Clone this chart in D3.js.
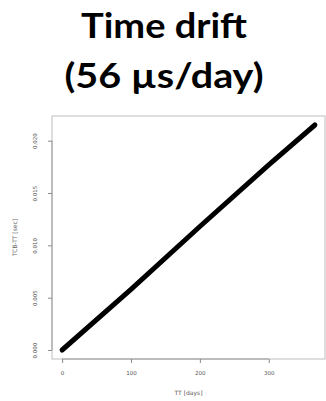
<!DOCTYPE html>
<html>
<head>
<meta charset="utf-8">
<script src="https://cdn.jsdelivr.net/npm/d3@7"></script>
<style>
  body { margin: 0; background: #fff; }
  svg { display: block; }
</style>
</head>
<body>
<div id="chart"></div>
<script>
// Values
const titleLines = ["Time drift", "(56 \u00b5s/day)"];
const days = [0, 100, 200, 300, 367];
const drift = [0, 0.0058, 0.0118, 0.0177, 0.0215];
const xTicks = [0, 100, 200, 300];
const yTicks = [0, 0.005, 0.010, 0.015, 0.020];
const xLabel = "TT [days]";
const yLabel = "TCB-TT [sec]";

const width = 326, height = 401;

const svg = d3.select("#chart")
    .append("svg")
    .attr("width", width)
    .attr("height", height);

// Title, two bold lines
svg.selectAll("text.title")
    .data(titleLines)
    .enter()
    .append("text")
    .attr("class", "title")
    .attr("x", 164)
    .attr("y", (d, i) => 38 + i * 50)
    .attr("text-anchor", "middle")
    .attr("font-family", "Lato, 'Open Sans', sans-serif")
    .attr("font-weight", "bold")
    .attr("font-size", 35)
    .attr("fill", "#000")
    .attr("textLength", (d, i) => i === 0 ? 166 : 199)
    .attr("lengthAdjust", "spacingAndGlyphs")
    .text(d => d);

// Scales: R-style 4% padding beyond data range
const xPad = (d3.max(days) - d3.min(days)) * 0.04;
const yPad = (d3.max(drift) - d3.min(drift)) * 0.04;
const x = d3.scaleLinear()
    .domain([d3.min(days) - xPad, d3.max(days) + xPad])
    .range([52, 325]);
const y = d3.scaleLinear()
    .domain([d3.min(drift) - yPad, d3.max(drift) + yPad])
    .range([359, 116]);

// Plot box
svg.append("rect")
    .attr("x", x.range()[0])
    .attr("y", y.range()[1])
    .attr("width", x.range()[1] - x.range()[0])
    .attr("height", y.range()[0] - y.range()[1])
    .attr("fill", "none")
    .attr("stroke", "#c8c8c8")
    .attr("stroke-width", 1.2);

// Axes
const xAxis = svg.append("g")
    .attr("transform", `translate(0,${y.range()[0]})`)
    .call(d3.axisBottom(x).tickValues(xTicks).tickSize(4).tickPadding(8)
        .tickFormat(d3.format("d")));
const yAxis = svg.append("g")
    .attr("transform", `translate(${x.range()[0]},0)`)
    .call(d3.axisLeft(y).tickValues(yTicks).tickSize(4).tickPadding(0)
        .tickFormat(d3.format(".3f")));

[xAxis, yAxis].forEach(g => {
    g.select(".domain").attr("stroke", "#9a9a9a");
    g.selectAll(".tick line").attr("stroke", "#8a8a8a");
    g.selectAll(".tick text")
        .attr("font-family", "'DejaVu Sans', sans-serif")
        .attr("font-size", 5.5)
        .attr("fill", "#555");
});
xAxis.select(".domain").attr("d", `M${x(xTicks[0])},0V0H${x(xTicks[xTicks.length - 1])}V0`);
yAxis.select(".domain").attr("d", `M0,${y(yTicks[0])}H0V${y(yTicks[yTicks.length - 1])}H0`);

// rotate y tick labels (parallel to axis)
yAxis.selectAll(".tick text")
    .attr("text-anchor", "middle")
    .attr("x", 0)
    .attr("dy", 0)
    .attr("transform", "translate(-15,0) rotate(-90)");

// Axis titles
svg.append("text")
    .attr("x", (x.range()[0] + x.range()[1]) / 2)
    .attr("y", 395)
    .attr("text-anchor", "middle")
    .attr("font-family", "'DejaVu Sans', sans-serif")
    .attr("font-size", 6)
    .attr("fill", "#555")
    .text(xLabel);
svg.append("text")
    .attr("transform", `translate(17,${(y.range()[0] + y.range()[1]) / 2}) rotate(-90)`)
    .attr("text-anchor", "middle")
    .attr("font-family", "'DejaVu Sans', sans-serif")
    .attr("font-size", 6)
    .attr("fill", "#666")
    .text(yLabel);

// Drift line
const line = d3.line()
    .x((d, i) => x(days[i]))
    .y(d => y(d));
svg.append("path")
    .datum(drift)
    .attr("d", line)
    .attr("fill", "none")
    .attr("stroke", "#000")
    .attr("stroke-width", 5)
    .attr("stroke-linecap", "round");
</script>
</body>
</html>
